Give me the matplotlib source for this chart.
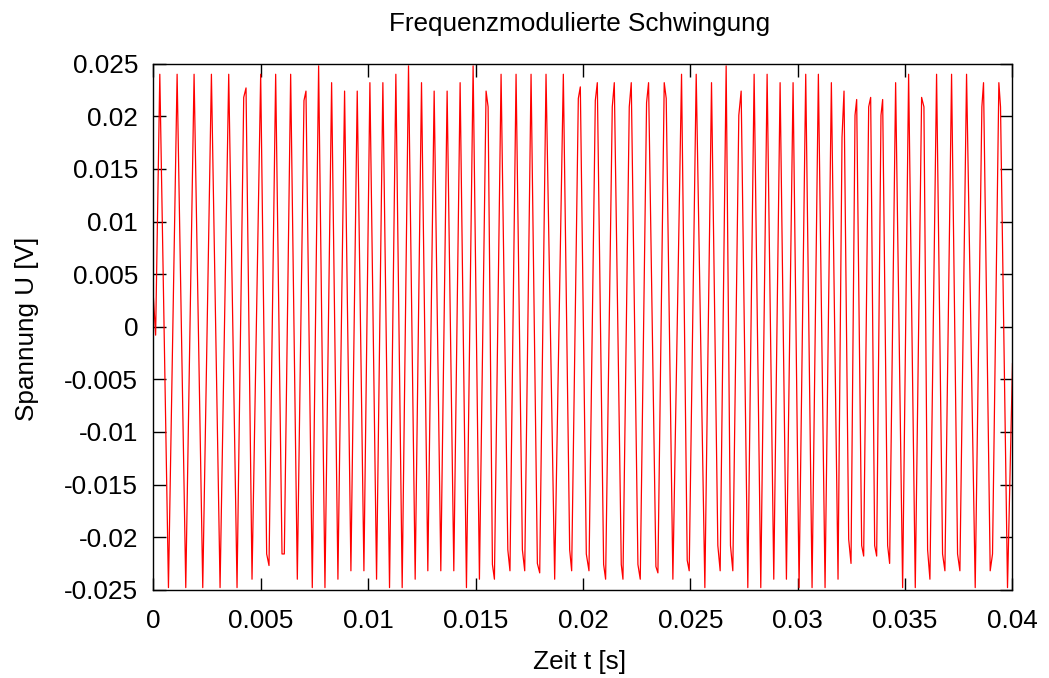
import matplotlib
matplotlib.use("Agg")
import matplotlib.pyplot as plt
import numpy as np

plt.rcParams['font.family'] = ['Liberation Sans', 'DejaVu Sans']

start_t = [0.000, 0.100]
start_u = [0.0027, -0.0008]

peak_t = [0.295, 1.101, 1.891, 2.698, 3.504, 4.202, 4.310, 4.992, 5.690, 6.388,
          7.008, 7.101, 7.690, 8.295, 8.899, 9.488, 10.078, 10.682, 11.287, 11.876,
          12.481, 13.070, 13.674, 14.279, 14.884, 15.488, 15.582, 16.186, 16.884, 17.582,
          18.279, 19.085, 19.783, 19.876, 20.574, 20.667, 21.364, 21.458, 22.155, 22.248,
          22.961, 23.054, 23.783, 23.876, 24.589, 25.272, 25.985, 26.667, 27.256, 27.365,
          27.969, 28.574, 29.179, 29.783, 30.372, 30.961, 31.566, 32.062, 32.155, 32.667,
          32.744, 33.303, 33.396, 33.876, 33.954, 34.558, 35.163, 35.768, 35.876, 36.465,
          37.163, 37.861, 38.574, 38.651, 39.365, 39.442]
peak_u = [0.0240, 0.0240, 0.0240, 0.0240, 0.0240, 0.0218, 0.0227, 0.0240, 0.0240, 0.0240,
          0.0215, 0.0224, 0.0248, 0.0232, 0.0224, 0.0224, 0.0232, 0.0232, 0.0240, 0.0248,
          0.0232, 0.0224, 0.0224, 0.0232, 0.0248, 0.0224, 0.0209, 0.0240, 0.0240, 0.0240,
          0.0240, 0.0240, 0.0217, 0.0228, 0.0215, 0.0232, 0.0209, 0.0232, 0.0209, 0.0232,
          0.0213, 0.0232, 0.0232, 0.0217, 0.0240, 0.0240, 0.0232, 0.0248, 0.0201, 0.0224,
          0.0240, 0.0240, 0.0232, 0.0232, 0.0240, 0.0240, 0.0232, 0.0180, 0.0224, 0.0201,
          0.0216, 0.0209, 0.0218, 0.0201, 0.0216, 0.0232, 0.0240, 0.0218, 0.0209, 0.0240,
          0.0240, 0.0240, 0.0209, 0.0232, 0.0232, 0.0209]

trough_t = [0.698, 1.504, 2.295, 3.101, 3.891, 4.589, 5.271, 5.380, 5.985, 6.093,
            6.698, 7.395, 7.985, 8.589, 9.194, 9.799, 10.388, 10.992, 11.581, 12.186,
            12.775, 13.380, 13.985, 14.574, 15.178, 15.783, 15.876, 16.500, 16.600, 17.178,
            17.287, 17.876, 17.985, 18.682, 19.380, 19.473, 20.155, 20.279, 20.961, 21.054,
            21.783, 21.861, 22.558, 22.667, 23.396, 23.489, 24.186, 24.853, 24.946, 25.675,
            26.279, 26.388, 26.868, 26.977, 27.675, 28.279, 28.884, 29.473, 30.062, 30.667,
            31.272, 31.876, 32.372, 32.481, 32.977, 33.070, 33.582, 33.675, 34.186, 34.279,
            34.884, 35.473, 36.047, 36.155, 36.744, 36.853, 37.442, 37.551, 38.264, 38.962,
            39.070, 39.768]
trough_u = [-0.0248, -0.0248, -0.0248, -0.0248, -0.0248, -0.0240, -0.0216, -0.0227, -0.0216, -0.0216,
            -0.0240, -0.0248, -0.0248, -0.0240, -0.0232, -0.0232, -0.0240, -0.0248, -0.0248, -0.0240,
            -0.0232, -0.0232, -0.0232, -0.0248, -0.0240, -0.0226, -0.0240, -0.0212, -0.0232, -0.0212,
            -0.0232, -0.0225, -0.0234, -0.0240, -0.0212, -0.0232, -0.0216, -0.0232, -0.0226, -0.0240,
            -0.0226, -0.0240, -0.0226, -0.0240, -0.0228, -0.0234, -0.0240, -0.0222, -0.0232, -0.0248,
            -0.0208, -0.0232, -0.0208, -0.0232, -0.0248, -0.0248, -0.0240, -0.0240, -0.0248, -0.0248,
            -0.0248, -0.0240, -0.0202, -0.0225, -0.0208, -0.0218, -0.0208, -0.0218, -0.0208, -0.0225,
            -0.0248, -0.0248, -0.0212, -0.0240, -0.0216, -0.0232, -0.0216, -0.0232, -0.0248, -0.0232,
            -0.0216, -0.0248]

end_t = [40.0]
end_u = [-0.0035]

x_ticks = [0, 0.005, 0.01, 0.015, 0.02, 0.025, 0.03, 0.035, 0.04]
x_tick_labels = ["0", "0.005", "0.01", "0.015", "0.02", "0.025", "0.03", "0.035", "0.04"]
y_ticks = [-0.025, -0.02, -0.015, -0.01, -0.005, 0, 0.005, 0.01, 0.015, 0.02, 0.025]
y_tick_labels = ["-0.025", "-0.02", "-0.015", "-0.01", "-0.005", "0", "0.005", "0.01", "0.015", "0.02", "0.025"]

# merge into one polyline ordered by time
t_all = np.array(start_t + peak_t + trough_t + end_t) / 1000.0
u_all = np.array(start_u + peak_u + trough_u + end_u)
order = np.argsort(t_all, kind="stable")
t_all = t_all[order]
u_all = u_all[order]

FS = 18.8

fig = plt.figure(figsize=(10.49, 6.78), dpi=100)
ax = fig.add_axes([0.1463, 0.1302, 0.8189, 0.7758])
ax.plot(t_all, u_all, color="#ff0000", lw=0.9)

ax.set_xlim(0, 0.04)
ax.set_ylim(-0.025, 0.025)
ax.set_xticks(x_ticks)
ax.set_xticklabels(x_tick_labels)
ax.set_yticks(y_ticks)
ax.set_yticklabels(y_tick_labels)
ax.tick_params(direction="in", length=9, width=1, top=True, right=True,
               labelsize=FS, colors="black")
ax.tick_params(axis="x", pad=14)
ax.tick_params(axis="y", pad=11)
for s in ax.spines.values():
    s.set_linewidth(1.0)
    s.set_color("black")

fig.text(0.5525, 0.965, "Frequenzmodulierte Schwingung", ha="center", va="center", fontsize=FS)
fig.text(0.5525, 0.024, "Zeit t [s]", ha="center", va="center", fontsize=FS)
fig.text(0.026, 0.5155, "Spannung U [V]", ha="center", va="center", rotation=90, fontsize=FS)

fig.savefig("out.png", dpi=100)
